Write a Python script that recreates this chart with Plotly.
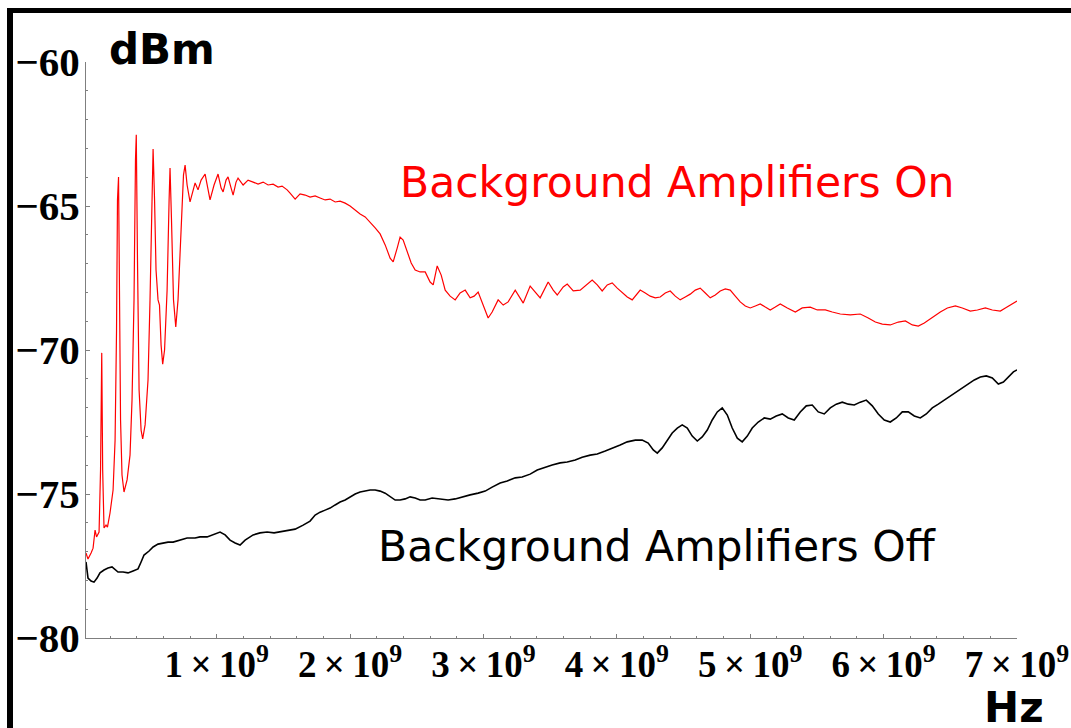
import plotly.graph_objects as go

# Spectrum analyser trace, background amplifiers ON (frequency in GHz, power in dBm)
freq_on_ghz = [
    0.020, 0.035, 0.058, 0.073, 0.088, 0.099, 0.118, 0.129, 0.138, 0.145,
    0.155, 0.170, 0.181, 0.200, 0.223, 0.238, 0.249, 0.256, 0.264, 0.271,
    0.279, 0.290, 0.305, 0.328, 0.350, 0.365, 0.380, 0.391, 0.397, 0.406,
    0.418, 0.433, 0.445, 0.463, 0.485, 0.500, 0.515, 0.523, 0.534, 0.545,
    0.560, 0.571, 0.583, 0.595, 0.609, 0.628, 0.643, 0.650, 0.661, 0.676,
    0.693, 0.710, 0.733, 0.751, 0.763, 0.778, 0.800, 0.823, 0.838, 0.860,
    0.883, 0.913, 0.935, 0.950, 0.980, 1.010, 1.033, 1.048, 1.070, 1.085,
    1.108, 1.123, 1.145, 1.160, 1.198, 1.235, 1.273, 1.310, 1.348, 1.385,
    1.423, 1.460, 1.490, 1.528, 1.550, 1.588, 1.625, 1.663, 1.700, 1.738,
    1.775, 1.813, 1.850, 1.888, 1.925, 1.963, 2.000, 2.038, 2.075, 2.113,
    2.150, 2.188, 2.225, 2.263, 2.300, 2.323, 2.353, 2.375, 2.398, 2.428,
    2.458, 2.488, 2.525, 2.563, 2.600, 2.623, 2.653, 2.683, 2.713, 2.750,
    2.788, 2.825, 2.863, 2.900, 2.930, 2.960, 2.998, 3.035, 3.065, 3.110,
    3.148, 3.185, 3.238, 3.268, 3.298, 3.350, 3.388, 3.425, 3.485, 3.523,
    3.553, 3.598, 3.628, 3.673, 3.725, 3.778, 3.815, 3.853, 3.890, 3.928,
    3.965, 4.003, 4.040, 4.078, 4.115, 4.153, 4.175, 4.213, 4.250, 4.288,
    4.325, 4.363, 4.400, 4.438, 4.475, 4.513, 4.550, 4.588, 4.625, 4.663,
    4.700, 4.738, 4.775, 4.813, 4.850, 4.888, 4.925, 4.963, 5.000, 5.038,
    5.075, 5.113, 5.150, 5.188, 5.225, 5.278, 5.338, 5.390, 5.450, 5.503,
    5.563, 5.615, 5.675, 5.750, 5.825, 5.885, 5.938, 5.990, 6.050, 6.110,
    6.163, 6.215, 6.260, 6.305, 6.350, 6.388, 6.425, 6.478, 6.538, 6.590,
    6.650, 6.703, 6.763, 6.815, 6.875, 6.913, 6.950, 7.000,
]
power_on_dbm = [
    -77.05, -77.26, -77.05, -76.88, -76.25, -76.49, -76.32, -74.17, -70.10, -74.17,
    -76.18, -76.08, -76.15, -75.66, -74.86, -73.13, -69.31, -64.79, -63.99, -68.26,
    -72.43, -74.34, -74.93, -74.51, -73.65, -71.74, -68.26, -63.40, -62.53, -66.88,
    -71.39, -72.78, -73.09, -72.60, -71.04, -68.26, -64.79, -63.02, -64.79, -67.22,
    -68.26, -68.44, -69.83, -70.49, -70.00, -67.92, -64.79, -63.68, -65.49, -68.26,
    -69.20, -68.26, -65.83, -63.92, -63.58, -64.27, -64.86, -64.44, -64.20, -64.44,
    -64.10, -63.89, -64.44, -64.79, -64.27, -63.89, -64.38, -64.51, -64.10, -63.99,
    -64.38, -64.62, -64.17, -64.03, -64.27, -64.10, -64.17, -64.24, -64.17, -64.27,
    -64.24, -64.34, -64.31, -64.44, -64.55, -64.76, -64.58, -64.62, -64.69, -64.65,
    -64.72, -64.79, -64.76, -64.86, -64.83, -64.90, -65.00, -65.14, -65.28, -65.38,
    -65.56, -65.76, -65.97, -66.35, -66.81, -66.94, -66.46, -66.08, -66.18, -66.60,
    -66.98, -67.22, -67.29, -67.29, -67.64, -67.74, -67.08, -67.40, -67.92, -68.13,
    -68.26, -68.02, -67.92, -68.19, -68.13, -67.99, -68.44, -68.89, -68.68, -68.26,
    -68.44, -68.33, -67.92, -68.13, -68.37, -67.78, -67.99, -68.19, -67.64, -67.92,
    -68.09, -67.81, -67.71, -67.95, -67.92, -67.71, -67.57, -67.74, -67.95, -67.74,
    -67.67, -67.85, -67.99, -68.16, -68.26, -68.06, -67.92, -68.02, -68.13, -68.19,
    -68.16, -68.02, -67.95, -68.13, -68.26, -68.16, -68.06, -67.92, -67.85, -68.02,
    -68.19, -68.09, -67.95, -67.88, -67.92, -68.13, -68.33, -68.47, -68.54, -68.47,
    -68.40, -68.51, -68.61, -68.51, -68.40, -68.54, -68.68, -68.54, -68.51, -68.61,
    -68.61, -68.68, -68.75, -68.78, -68.75, -68.89, -69.03, -69.10, -69.13, -69.03,
    -68.99, -69.13, -69.17, -69.06, -68.92, -68.78, -68.68, -68.54, -68.47, -68.54,
    -68.65, -68.61, -68.54, -68.61, -68.65, -68.54, -68.44, -68.30,
]

# Spectrum analyser trace, background amplifiers OFF
freq_off_ghz = [
    0.020, 0.035, 0.058, 0.080, 0.103, 0.125, 0.155, 0.185, 0.215, 0.238,
    0.260, 0.298, 0.335, 0.373, 0.410, 0.433, 0.455, 0.493, 0.523, 0.560,
    0.598, 0.635, 0.673, 0.725, 0.778, 0.838, 0.875, 0.928, 0.980, 1.025,
    1.063, 1.100, 1.138, 1.175, 1.213, 1.273, 1.325, 1.378, 1.430, 1.475,
    1.528, 1.588, 1.648, 1.700, 1.738, 1.775, 1.813, 1.850, 1.888, 1.925,
    1.963, 2.000, 2.038, 2.075, 2.113, 2.150, 2.188, 2.225, 2.263, 2.300,
    2.338, 2.375, 2.413, 2.450, 2.488, 2.525, 2.563, 2.615, 2.675, 2.735,
    2.788, 2.840, 2.900, 2.960, 3.013, 3.065, 3.125, 3.178, 3.238, 3.290,
    3.350, 3.403, 3.463, 3.515, 3.575, 3.628, 3.688, 3.740, 3.800, 3.853,
    3.913, 3.965, 4.025, 4.078, 4.138, 4.190, 4.235, 4.273, 4.303, 4.340,
    4.378, 4.415, 4.453, 4.490, 4.528, 4.565, 4.603, 4.640, 4.678, 4.715,
    4.753, 4.790, 4.828, 4.865, 4.903, 4.940, 4.978, 5.015, 5.060, 5.105,
    5.150, 5.195, 5.240, 5.285, 5.330, 5.375, 5.420, 5.465, 5.510, 5.555,
    5.600, 5.645, 5.690, 5.735, 5.780, 5.825, 5.870, 5.915, 5.960, 6.005,
    6.050, 6.095, 6.140, 6.185, 6.230, 6.275, 6.320, 6.365, 6.410, 6.455,
    6.500, 6.545, 6.590, 6.635, 6.680, 6.725, 6.770, 6.815, 6.860, 6.898,
    6.935, 6.973, 7.000,
]
power_off_dbm = [
    -77.36, -77.92, -78.02, -78.06, -77.92, -77.74, -77.64, -77.57, -77.53, -77.64,
    -77.71, -77.71, -77.74, -77.67, -77.60, -77.36, -77.12, -76.98, -76.84, -76.74,
    -76.70, -76.67, -76.67, -76.60, -76.53, -76.53, -76.49, -76.49, -76.39, -76.32,
    -76.42, -76.60, -76.70, -76.77, -76.60, -76.42, -76.35, -76.32, -76.35, -76.32,
    -76.28, -76.22, -76.08, -75.94, -75.73, -75.63, -75.56, -75.49, -75.38, -75.28,
    -75.21, -75.10, -75.00, -74.93, -74.90, -74.86, -74.86, -74.90, -74.97, -75.10,
    -75.21, -75.21, -75.17, -75.10, -75.14, -75.21, -75.21, -75.14, -75.17, -75.21,
    -75.17, -75.10, -75.03, -74.97, -74.90, -74.76, -74.62, -74.55, -74.44, -74.41,
    -74.31, -74.17, -74.06, -73.99, -73.92, -73.89, -73.82, -73.72, -73.65, -73.61,
    -73.51, -73.40, -73.30, -73.19, -73.13, -73.13, -73.23, -73.47, -73.58, -73.40,
    -73.13, -72.88, -72.71, -72.60, -72.71, -72.99, -73.16, -73.02, -72.78, -72.43,
    -72.15, -72.01, -72.26, -72.71, -73.06, -73.19, -72.99, -72.71, -72.50, -72.36,
    -72.40, -72.29, -72.22, -72.36, -72.43, -72.15, -71.94, -71.91, -72.15, -72.22,
    -72.01, -71.88, -71.81, -71.88, -71.91, -71.81, -71.74, -71.94, -72.22, -72.43,
    -72.50, -72.36, -72.15, -72.15, -72.29, -72.36, -72.22, -72.01, -71.88, -71.74,
    -71.60, -71.46, -71.32, -71.18, -71.04, -70.94, -70.90, -70.97, -71.18, -71.11,
    -70.94, -70.76, -70.69,
]

x_tick_values_ghz = [1, 2, 3, 4, 5, 6, 7]
x_tick_labels = [f"<b>{v}\u2009×\u200910<sup>9</sup></b>" for v in x_tick_values_ghz]
y_tick_values = [-80, -75, -70, -65, -60]
y_tick_labels = ["<b>\u221280</b>", "<b>\u221275</b>", "<b>\u221270</b>",
                 "<b>\u221265</b>", "<b>\u221260</b>"]

W, H = 1071, 728
L, R, T, B = 86, 54, 62, 90
plot_w, plot_h = W - L - R, H - T - B


def px(x):
    """Page x pixel -> paper coordinate."""
    return (x - L) / plot_w


def py(y):
    """Page y pixel -> paper coordinate."""
    return (H - B - y) / plot_h


fig = go.Figure()
fig.add_trace(go.Scatter(
    x=[f * 1e9 for f in freq_off_ghz], y=power_off_dbm, mode="lines",
    line=dict(color="black", width=1.6), name="Background Amplifiers Off",
))
fig.add_trace(go.Scatter(
    x=[f * 1e9 for f in freq_on_ghz], y=power_on_dbm, mode="lines",
    line=dict(color="#ff0000", width=1.2), name="Background Amplifiers On",
))

axis_grey = "#7f7f7f"
tick_font_x = dict(family="Liberation Serif", size=37, color="black")
tick_font_y = dict(family="Liberation Serif", size=41, color="black")

minor_x = [k * 0.2e9 for k in range(1, 35) if k % 5 != 0]
minor_y = [v for v in range(-79, -60) if v % 5 != 0]

fig.update_xaxes(
    range=[0.02e9, 7.0e9], showgrid=False, zeroline=False, automargin=False,
    showline=True, linecolor=axis_grey, linewidth=1,
    tickmode="array", tickvals=[v * 1e9 for v in x_tick_values_ghz], ticktext=x_tick_labels,
    ticks="inside", ticklen=4, tickcolor=axis_grey, tickwidth=1,
    tickfont=tick_font_x, ticklabelstandoff=-6,
    minor=dict(tickmode="array", tickvals=minor_x, ticks="inside", ticklen=2,
               tickcolor=axis_grey, tickwidth=1, showgrid=False),
)
fig.update_yaxes(
    range=[-80, -60], showgrid=False, zeroline=False, automargin=False,
    showline=True, linecolor=axis_grey, linewidth=1,
    tickmode="array", tickvals=y_tick_values, ticktext=y_tick_labels,
    ticks="inside", ticklen=4, tickcolor=axis_grey, tickwidth=1,
    tickfont=tick_font_y, ticklabelstandoff=-3,
    minor=dict(tickmode="array", tickvals=minor_y, ticks="inside", ticklen=2,
               tickcolor=axis_grey, tickwidth=1, showgrid=False),
)

sans = "DejaVu Sans"
annotations = [
    dict(text="<b>dBm</b>", x=px(107), y=py(49), xanchor="left", yanchor="middle",
         font=dict(family=sans, size=42, color="black")),
    dict(text="<b>Hz</b>", x=px(982), y=py(707), xanchor="left", yanchor="middle",
         font=dict(family=sans, size=42, color="black")),
    dict(text="Background Amplifiers On", x=px(398), y=py(182), xanchor="left",
         yanchor="middle", font=dict(family=sans, size=42.5, color="#ff0000")),
    dict(text="Background Amplifiers Off", x=px(376), y=py(546), xanchor="left",
         yanchor="middle", font=dict(family=sans, size=42.5, color="black")),
]
for a in annotations:
    a.update(xref="paper", yref="paper", showarrow=False)

# thick black frame along the top and left edges
frame = [
    dict(type="rect", x0=px(7), x1=px(W + 2), y0=py(13), y1=py(8)),
    dict(type="rect", x0=px(7), x1=px(13), y0=py(H + 2), y1=py(8)),
]
for s in frame:
    s.update(xref="paper", yref="paper", fillcolor="black", line=dict(width=0), layer="above")

fig.update_layout(
    width=W, height=H,
    margin=dict(l=L, r=R, t=T, b=B, pad=0, autoexpand=False),
    paper_bgcolor="white", plot_bgcolor="white",
    showlegend=False,
    annotations=annotations,
    shapes=frame,
)

fig.write_html("out.html", config={"displayModeBar": False})
